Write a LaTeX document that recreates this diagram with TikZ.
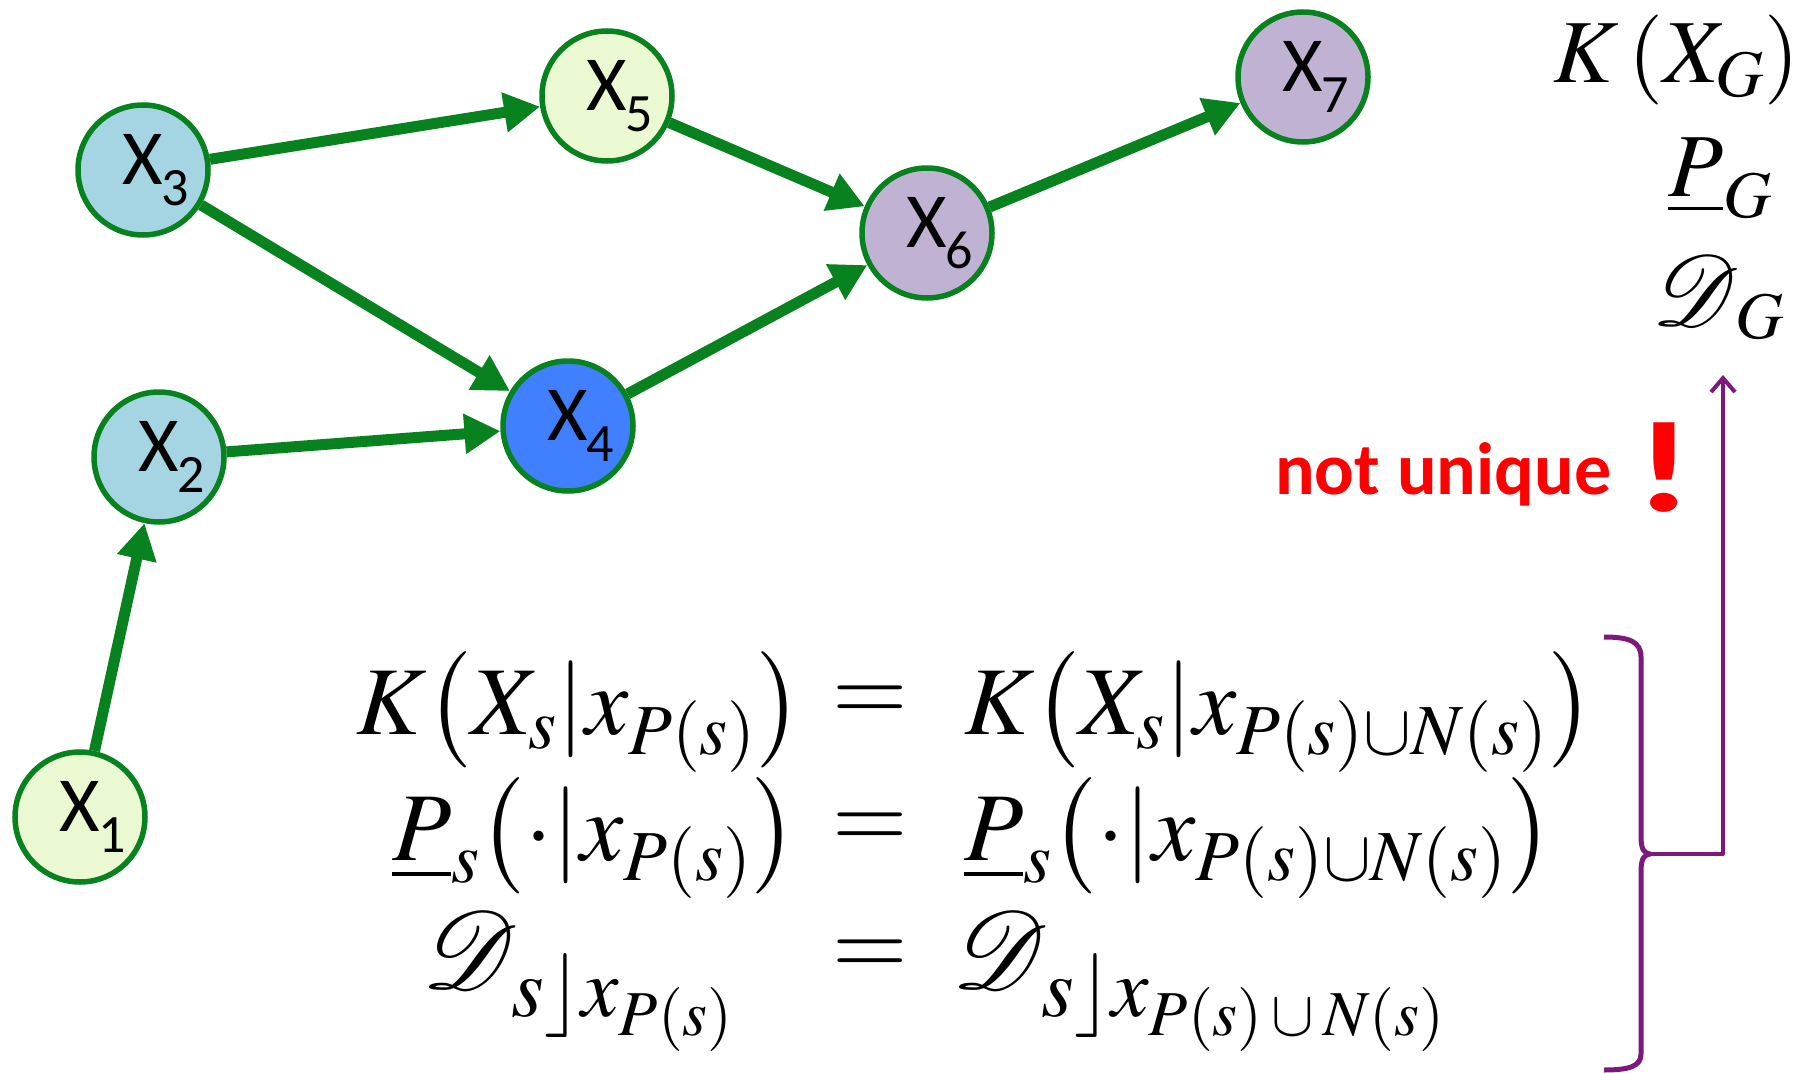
\documentclass[tikz,border=0pt]{standalone}
\usepackage{mathptmx}
\usepackage{graphicx}
\usepackage[no-math]{fontspec}
\DeclareFontFamily{U}{myrsfs}{\skewchar\font'177}
\DeclareFontShape{U}{myrsfs}{m}{n}{<-> rsfs10}{}
\DeclareMathAlphabet{\myscr}{U}{myrsfs}{m}{n}
\newfontfamily\carlito{Carlito}
\usetikzlibrary{arrows.meta}
\definecolor{gline}{RGB}{8,130,30}
\definecolor{lgreen}{RGB}{235,249,211}
\definecolor{lblue}{RGB}{165,213,227}
\definecolor{dblue}{RGB}{64,128,255}
\definecolor{lav}{RGB}{192,178,210}
\definecolor{purp}{RGB}{125,25,125}
\newcommand{\xlab}[1]{{\carlito\fontsize{78}{78}\selectfont X\rlap{\kern-2pt\lower21pt\hbox{\fontsize{54}{54}\selectfont #1}}}}
\newcommand{\strutv}[1]{\vcenter{\hbox{\vrule width0pt height #1 depth #1}}}
\newcommand{\lpar}{\mathopen{\left(\strutv{52pt}\right.}}
\newcommand{\rpar}{\mathclose{\left.\strutv{52pt}\right)}}
\newcommand{\mbar}{{\left|\strutv{44pt}\right.}}
\newcommand{\bigD}{\hbox{\fontsize{110}{110}\selectfont$\myscr{D}$}}
\newcommand{\dsub}[1]{\lower28pt\hbox{\fontsize{84}{84}\selectfont$s\rfloor x_{\hbox{\fontsize{64}{64}\selectfont$#1$}}$}}
\tikzset{
  var/.style={circle, draw=gline, line width=5.5pt, minimum size=130pt, inner sep=0pt},
  edge/.style={draw=gline, line width=11pt, -{Triangle[length=36pt,width=38pt]}},
  pline/.style={draw=purp, line width=5pt, line join=round},
  eq/.style={inner sep=0pt, font=\fontsize{97}{110}\selectfont},
  eqs/.style={inner sep=0pt, font=\fontsize{90}{100}\selectfont},
}
\begin{document}
\begin{tikzpicture}[x=1pt,y=-1pt]
\useasboundingbox (0,0) rectangle (1810,1073);
% nodes
\node[var, fill=lgreen] (x1) at (80,817) {\xlab{1}};
\node[var, fill=lblue] (x2) at (159,457) {\xlab{2}};
\node[var, fill=lblue] (x3) at (143,170) {\xlab{3}};
\node[var, fill=dblue] (x4) at (568,426) {\xlab{4}};
\node[var, fill=lgreen] (x5) at (607,96) {\xlab{5}};
\node[var, fill=lav] (x6) at (927,233) {\xlab{6}};
\node[var, fill=lav] (x7) at (1303,77) {\xlab{7}};
% edges
\draw[edge] (x3) -- (x5);
\draw[edge] (x3) -- (x4);
\draw[edge] (x2) -- (x4);
\draw[edge] (x1) -- (x2);
\draw[edge] (x5) -- (x6);
\draw[edge] (x4) -- (x6);
\draw[edge] (x6) -- (x7);
% top right
\node[eqs, anchor=base west] (kg) at (1553,83) {$K\left(\vrule width0pt height 50pt depth 20pt X_G\right)$};
\node[eqs, anchor=base west] (pg) at (1668,196) {$\underline{P}_G$};
\node[eqs, anchor=base west] (dg) at (1652,325) {\hbox{\fontsize{100}{100}\selectfont$\myscr{D}$}\kern-4pt$_G$};
% not unique
\node[inner sep=0pt, anchor=base west, text=red, font=\carlito\bfseries\fontsize{74}{80}\selectfont] (nu) at (1275,494) {not unique};
\node[inner sep=0pt, anchor=base west, text=red, font=\carlito\bfseries\fontsize{130}{130}\selectfont] (ex) at (1634,511) {\scalebox{1.4}[1]{!}};
% equations
\node[eq, anchor=base west] (l1) at (356,734) {$K\lpar X_s\mbar x_{P(s)}\rpar$};
\node[eq] (e1) at (870,704) {$=$};
\node[eq, anchor=base west] (r1) at (964,734) {$K\lpar X_s\mbar x_{P(s)\mathbin{\cup}N(s)}\rpar$};
\node[eq, anchor=base west] (l2) at (392,860) {$\underline{P}_s\lpar\cdot\mbar x_{P(s)}\rpar$};
\node[eq] (e2) at (870,831) {$=$};
\node[eq, anchor=base west] (r2) at (964,860) {$\underline{P}_s\lpar\cdot\mbar x_{P(s)\mathbin{\cup}N(s)}\rpar$};
\node[eq, anchor=base west] (l3) at (422,988) {\bigD\kern-6pt\dsub{P(s)}};
\node[eq] (e3) at (870,958) {$=$};
\node[eq, anchor=base west] (r3) at (952,988) {\bigD\kern-6pt\dsub{P(s)\cup N(s)}};
% purple brace and arrow
\coordinate (btop) at (1604,637);
\coordinate (btip) at (1650,854);
\coordinate (bbot) at (1604,1070);
\coordinate (corner) at (1723,854);
\coordinate (aend) at (1723,375);
\draw[pline] (btop) .. controls (1630,637) and (1641,642) .. (1641,657) -- (1641,836) .. controls (1641,850) and (1644,853) .. (btip) .. controls (1644,855) and (1641,858) .. (1641,872) -- (1641,1054) .. controls (1641,1066) and (1630,1070) .. (bbot);
\draw[pline, line width=4pt, -{Straight Barb[length=14pt,width=24pt]}] (btip) -- (corner) -- (aend);
\end{tikzpicture}
\end{document}
